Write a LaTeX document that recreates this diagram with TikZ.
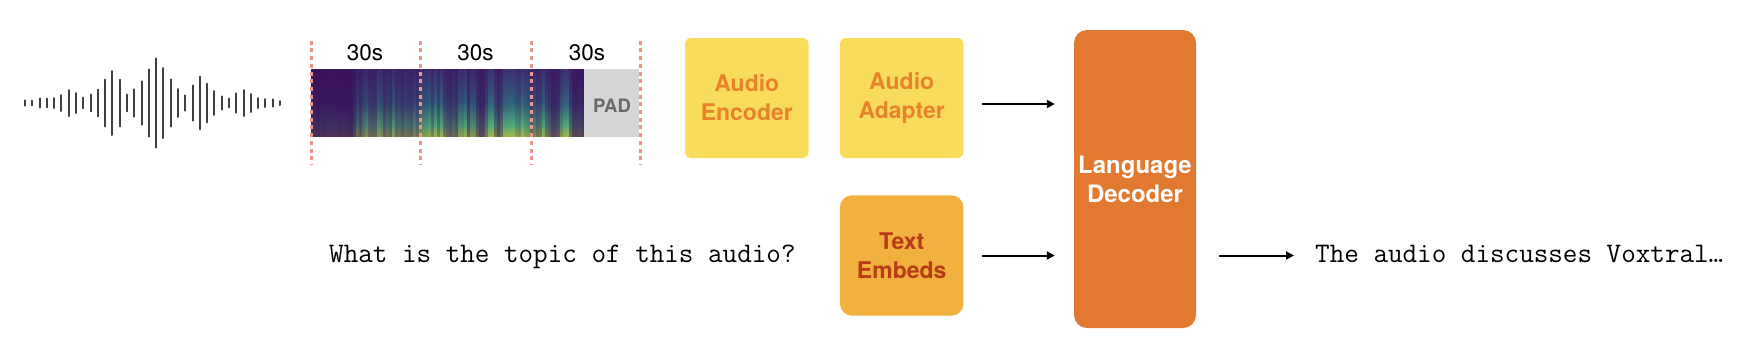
\documentclass[tikz,border=0pt]{standalone}
\usepackage{fontspec}
\setsansfont{TeX Gyre Heros}
\usetikzlibrary{arrows.meta}
\definecolor{ylwfill}{HTML}{F9DC5C}
\definecolor{orgtxt}{HTML}{E8832D}
\definecolor{embfill}{HTML}{F2B13E}
\definecolor{embtxt}{HTML}{B83A16}
\definecolor{decfill}{HTML}{E27930}
\definecolor{padfill}{HTML}{D6D6D6}
\definecolor{padtxt}{HTML}{6A6A6A}
\definecolor{salmon}{HTML}{EC9689}
\definecolor{wavecol}{HTML}{404040}
\definecolor{vdark}{HTML}{3A0F5A}
\definecolor{vblue}{HTML}{3E5C8E}
\definecolor{vteal}{HTML}{2C8C8C}
\definecolor{vgreen}{HTML}{52B87A}
\definecolor{vyel}{HTML}{B8DE42}
\begin{document}
\begin{tikzpicture}[x=1pt,y=-1pt,
  wavebar/.style={line width=2pt, draw=wavecol, line cap=round},
  cutline/.style={draw=salmon, line width=3pt, dash pattern=on 4pt off 3.7pt},
  seclabel/.style={anchor=base, inner sep=0pt, font=\sffamily\fontsize{22.5}{27}\selectfont},
  block/.style={inner sep=0pt, align=center, font=\sffamily\bfseries\fontsize{23}{29}\selectfont},
  ylwbox/.style={block, fill=ylwfill, text=orgtxt, minimum width=123.5pt, minimum height=120pt, rounded corners=6pt},
  embbox/.style={block, fill=embfill, text=embtxt, minimum width=123.5pt, minimum height=120.4pt, rounded corners=12pt},
  decbox/.style={block, fill=decfill, text=white, minimum width=122pt, minimum height=298pt, rounded corners=13pt, font=\sffamily\bfseries\fontsize{24}{29}\selectfont},
  monotext/.style={anchor=base west, inner sep=0pt, font=\ttfamily\fontsize{28.3}{32}\selectfont},
  arr/.style={-{Triangle[length=8pt,width=8pt]}, line width=2pt, draw=black}
]
\fill[white] (0,0) rectangle (1762,357);
\useasboundingbox (0,0) rectangle (1762,357);

% waveform
\foreach \h [count=\i from 0] in {3.7,3.3,5.7,5.3,6,9,14,11,6.3,9.3,14.3,24.3,33,24.3,9.3,14.7,22.7,34.7,45.7,36,24.7,15,8.7,18.7,27.3,20.3,13,7.7,5.3,10.7,14,10,6,5,4.7,3}
  \draw[wavebar] ({25+7.286*\i},{103-\h+1}) -- ({25+7.286*\i},{103+\h-1});

% spectrogram
\fill[vdark] (311,69.3) rectangle (584,136.7);
\pgfmathsetseed{11}
\xdef\prevp{10}
\foreach \i in {0,...,90} {
  \pgfmathsetmacro\xa{311+3*\i}
  \pgfmathsetmacro\raw{(\xa<353) ? (6+6*rnd) : ((\xa>566) ? (8+25*rnd) : (12+88*rnd))}
  \pgfmathsetmacro\sm{(\xa<353) ? \raw : (0.35*\prevp+0.65*\raw)}
  \xdef\prevp{\sm}
  \pgfmathtruncatemacro\pa{0.55*\sm}
  \pgfmathtruncatemacro\pb{0.8*\sm}
  \pgfmathtruncatemacro\pc{min(100,1.0*\sm+8)}
  \pgfmathtruncatemacro\pd{min(100,0.9*\sm+8)}
  \shade[top color=vblue!\pa!vdark, bottom color=vteal!\pb!vdark] (\xa,69.3) rectangle ++(3.05,34);
  \shade[top color=vteal!\pb!vdark, bottom color=vgreen!\pc!vdark] (\xa,103.2) rectangle ++(3.05,22);
  \shade[top color=vgreen!\pc!vdark, bottom color=vyel!\pd!vdark] (\xa,125.1) rectangle ++(3.05,11.6);
}
\fill[padfill] (584,69.3) rectangle (639,136.7);
\node[anchor=base, inner sep=0pt, text=padtxt, font=\sffamily\bfseries\fontsize{18.5}{22}\selectfont] (pad) at (612,112.7) {PAD};

% cut lines
\foreach \xc in {311,420,531,640}
  \draw[cutline] (\xc,40.7) -- (\xc,165);
\node[seclabel] (s1) at (365,60) {30s};
\node[seclabel] (s2) at (475.5,60) {30s};
\node[seclabel] (s3) at (587,60) {30s};

% blocks
\node[ylwbox] (enc) at (746.8,98) {Audio\\Encoder};
\node[ylwbox] (adp) at (901.7,98) {Audio\\Adapter};
\node[embbox] (emb) at (901.7,255.5) {Text\\Embeds};
\node[decbox] (dec) at (1135,179) {Language\\Decoder};

% texts
\node[monotext] (q) at (329,262.5) {What is the topic of this audio?};
\node[monotext] (out) at (1315,262.5) {The audio discusses Voxtral…};

% arrows
\draw[arr, shorten <=18.4pt, shorten >=19pt] ([yshift=-6pt]adp.east) -- ([yshift=-6pt]adp.east -| dec.west);
\draw[arr, shorten <=18.4pt, shorten >=19pt] (emb.east) -- (emb.east -| dec.west);
\draw[arr, shorten <=23pt, shorten >=21pt] (dec.east |- emb.east) -- (emb.east -| out.west);
\end{tikzpicture}
\end{document}
